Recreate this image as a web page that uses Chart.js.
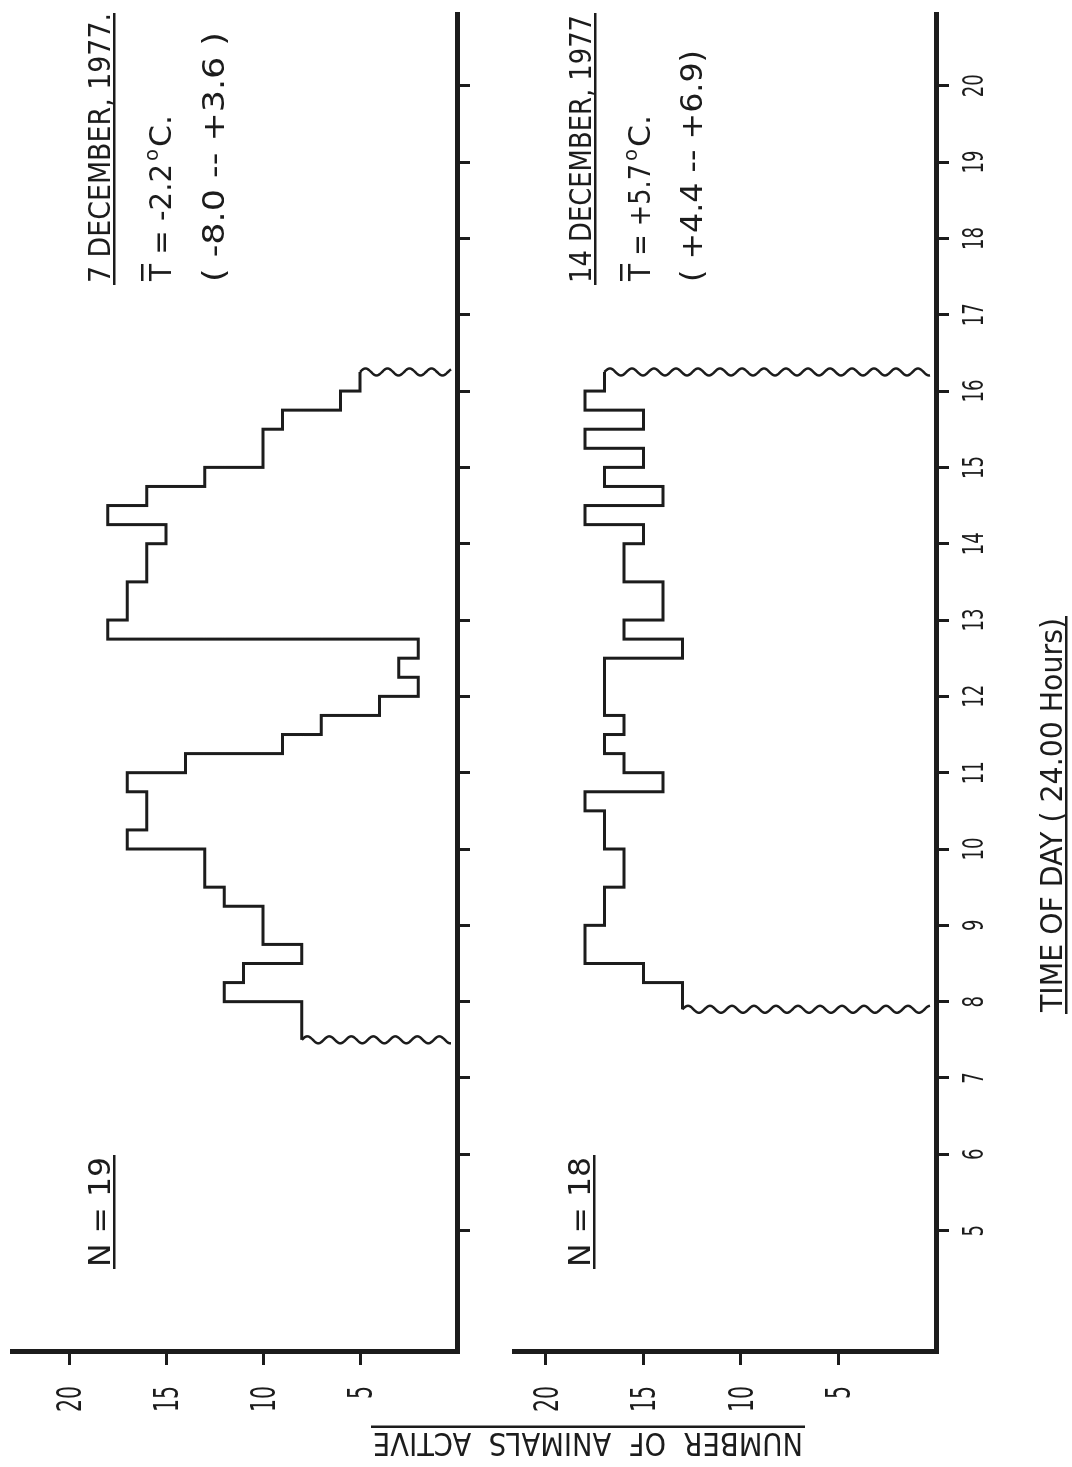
<!DOCTYPE html>
<html>
<head>
<meta charset="utf-8">
<title>Number of animals active, December 1977</title>
<script src="https://cdn.jsdelivr.net/npm/chart.js@4.4.1/dist/chart.umd.min.js"></script>
<style>
  html, body { margin: 0; padding: 0; background: #fff; overflow: hidden; }
  #page { position: absolute; left: 0; top: 0; width: 1072px; height: 1467px; overflow: hidden; background: #fff; }
  /* the figure is drawn upright, then turned a quarter turn like the scanned page */
  #fig { position: absolute; left: 0; top: 0; width: 1467px; height: 1072px;
         transform-origin: 0 0; transform: translateY(1467px) rotate(-90deg); }
  #fig canvas { position: absolute; left: 0; top: 0; }
</style>
</head>
<body>
<div id="page"><div id="fig">
  <canvas id="dec7" width="1467" height="1072"></canvas>
  <canvas id="dec14" width="1467" height="1072"></canvas>
</div></div>
<script>
// 7 December 1977: bin edges (hour of day) and animals active in each bin
const dec7Edges = [7.5, 8, 8.25, 8.5, 8.75, 9.25, 9.5, 10, 10.25, 10.75, 11, 11.25, 11.5, 11.75,
                   12, 12.25, 12.5, 12.75, 13, 13.5, 14, 14.25, 14.5, 14.75, 15, 15.5, 15.75, 16, 16.25];
const dec7Counts = [8, 12, 11, 8, 10, 12, 13, 17, 16, 17, 14, 9, 7, 4,
                    2, 3, 2, 18, 17, 16, 15, 18, 16, 13, 10, 9, 6, 5];

// 14 December 1977
const dec14Edges = [7.9, 8.25, 8.5, 9, 9.5, 10, 10.5, 10.75, 11, 11.25, 11.5, 11.75, 12.5,
                    12.75, 13, 13.5, 14, 14.25, 14.5, 14.75, 15, 15.25, 15.5, 15.75, 16, 16.25];
const dec14Counts = [13, 15, 18, 17, 16, 17, 18, 14, 16, 17, 16, 17,
                     13, 16, 14, 16, 15, 18, 14, 17, 15, 18, 15, 18, 17];

const hourTicks = [5, 6, 7, 8, 9, 10, 11, 12, 13, 14, 15, 16, 17, 18, 19, 20];
const countTicks = [5, 10, 15, 20];

const INK = '#1c1c1c';
const FONT = '"DejaVu Sans Condensed", "DejaVu Sans", sans-serif';

// draw text squeezed to a given width (lettering-guide look)
function txt(ctx, s, x, y, size, w, align) {
  ctx.save();
  ctx.font = size + 'px ' + FONT;
  const nat = ctx.measureText(s).width;
  const k = w ? w / nat : 1;
  ctx.translate(x, y);
  ctx.scale(k, 1);
  ctx.textAlign = align || 'left';
  ctx.textBaseline = 'alphabetic';
  ctx.fillText(s, 0, 0);
  ctx.restore();
  return nat * k;
}

function wavy(ctx, x, yFrom, yTo) {
  const len = yTo - yFrom, n = Math.ceil(Math.abs(len));
  ctx.beginPath();
  for (let i = 0; i <= n; i++) {
    const y = yFrom + len * i / n;
    const dx = 3.5 * Math.sin((y - yFrom) / 22 * 2 * Math.PI);
    if (i === 0) ctx.moveTo(x + dx, y); else ctx.lineTo(x + dx, y);
  }
  ctx.lineWidth = 2.5;
  ctx.stroke();
}

function wavyEnds(ctx, sx, sy, edges, counts) {
  const yAxis = sy.getPixelForValue(0) - 6;
  wavy(ctx, sx.getPixelForValue(edges[0]), sy.getPixelForValue(counts[0]), yAxis);
  wavy(ctx, sx.getPixelForValue(edges[edges.length - 1]), sy.getPixelForValue(counts[counts.length - 1]), yAxis);
}

function countLabels(ctx, sy) {
  countTicks.forEach(v => {
    const s = String(v);
    txt(ctx, s, 81, sy.getPixelForValue(v) + 12, 33, s.length * 13, 'right');
  });
}

function tempLine(ctx, x, base, value) {
  let cx = x;
  cx += txt(ctx, 'T', cx, base, 31, 17);
  ctx.fillRect(x, base - 30, 17, 2.5);
  cx += txt(ctx, ' = ' + value, cx, base, 31, 100);
  cx += 3;
  cx += txt(ctx, 'o', cx, base - 13, 20, 12) + 2;
  txt(ctx, 'C.', cx, base, 31, 32);
}

function steps(edges, counts) {
  const pts = counts.map((c, i) => ({ x: edges[i], y: c }));
  pts.push({ x: edges[edges.length - 1], y: counts[counts.length - 1] });
  return pts;
}

function panel(id, edges, counts, yMax, top, bottom, notes) {
  return new Chart(document.getElementById(id), {
    type: 'line',
    data: {
      datasets: [{
        data: steps(edges, counts),
        stepped: true,
        borderColor: INK,
        borderWidth: 3,
        pointRadius: 0,
        fill: false,
        clip: false
      }]
    },
    options: {
      responsive: false,
      animation: false,
      devicePixelRatio: 1,
      layout: { padding: { left: 115, right: 14, top: top, bottom: 1072 - bottom } },
      plugins: { legend: { display: false }, tooltip: { enabled: false } },
      scales: {
        x: {
          type: 'linear', min: 3.41, max: 20.94,
          afterFit: s => { s.height = 0; },
          afterBuildTicks: s => { s.ticks = hourTicks.map(v => ({ value: v })); },
          ticks: { display: false, autoSkip: false },
          grid: { drawOnChartArea: false, tickLength: 13, lineWidth: 3, color: INK },
          border: { display: true, width: 5, color: INK }
        },
        y: {
          type: 'linear', min: 0, max: yMax,
          afterFit: s => { s.width = 0; },
          afterBuildTicks: s => { s.ticks = countTicks.map(v => ({ value: v })); },
          ticks: { display: false, autoSkip: false },
          grid: { drawOnChartArea: false, tickLength: 13, lineWidth: 3, color: INK },
          border: { display: true, width: 5, color: INK }
        }
      }
    },
    plugins: [notes]
  });
}

const dec7Notes = {
  id: 'dec7Notes',
  afterDraw(chart) {
    const ctx = chart.ctx, sx = chart.scales.x, sy = chart.scales.y;
    ctx.save();
    ctx.fillStyle = INK; ctx.strokeStyle = INK;
    wavyEnds(ctx, sx, sy, dec7Edges, dec7Counts);
    countLabels(ctx, sy);
    txt(ctx, '7 DECEMBER, 1977.', 1184, 110, 31, 270);
    ctx.fillRect(1182, 113, 272, 2.5);
    tempLine(ctx, 1186, 171, '-2.2');
    txt(ctx, '( -8.0 -- +3.6 )', 1185, 224, 31, 250);
    txt(ctx, 'N = 19', 200, 110, 31, 110);
    ctx.fillRect(198, 113, 114, 2.5);
    ctx.restore();
  }
};

const dec14Notes = {
  id: 'dec14Notes',
  afterDraw(chart) {
    const ctx = chart.ctx, sx = chart.scales.x, sy = chart.scales.y;
    ctx.save();
    ctx.fillStyle = INK; ctx.strokeStyle = INK;
    wavyEnds(ctx, sx, sy, dec14Edges, dec14Counts);
    countLabels(ctx, sy);
    hourTicks.forEach(h => {
      const s = String(h);
      txt(ctx, s, sx.getPixelForValue(h), 983, 29, s.length * 11.5, 'center');
    });
    txt(ctx, '14 DECEMBER, 1977', 1184, 591, 31, 268);
    ctx.fillRect(1182, 594, 272, 2.5);
    tempLine(ctx, 1186, 650, '+5.7');
    txt(ctx, '( +4.4 -- +6.9)', 1185, 702, 31, 232);
    txt(ctx, 'N = 18', 200, 590, 31, 110);
    ctx.fillRect(198, 593, 114, 2.5);

    // axis titles
    txt(ctx, 'TIME OF DAY ( 24.00 Hours)', 455, 1062, 31, 394);
    ctx.fillRect(453, 1065, 398, 2.5);
    ctx.save();
    ctx.translate(34, 588);
    ctx.rotate(-Math.PI / 2);
    txt(ctx, 'NUMBER  OF  ANIMALS  ACTIVE', 0, 0, 32, 430, 'center');
    ctx.fillRect(-217, 5, 434, 2.5);
    ctx.restore();
    ctx.restore();
  }
};

panel('dec7', dec7Edges, dec7Counts, 22.94, 12, 457, dec7Notes);
panel('dec14', dec14Edges, dec14Counts, 21.64, 514, 936, dec14Notes);
</script>
</body>
</html>
